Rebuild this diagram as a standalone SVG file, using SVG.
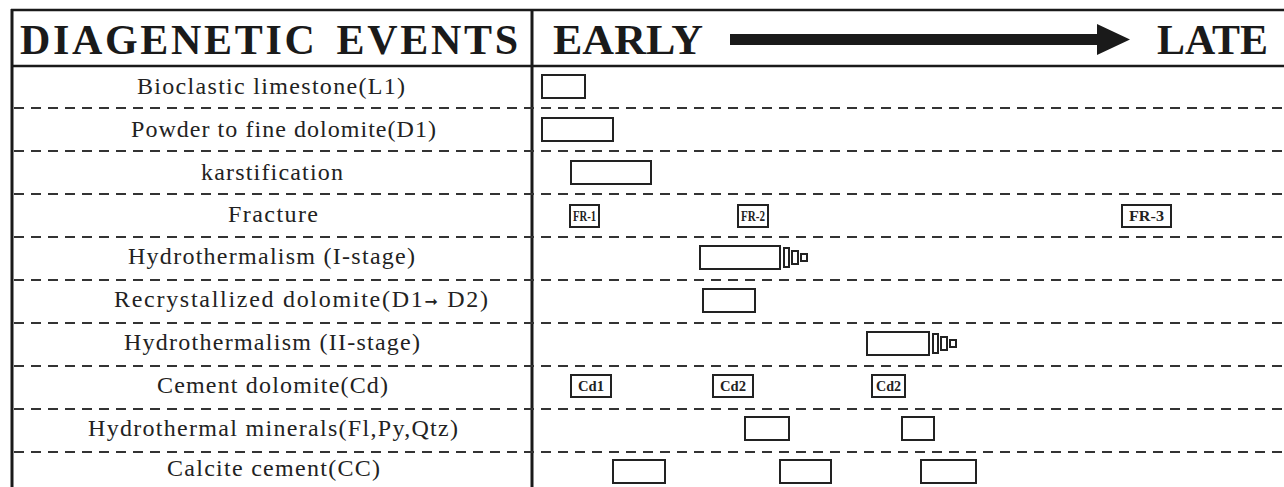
<svg xmlns="http://www.w3.org/2000/svg" width="1284" height="487" viewBox="0 0 1284 487">
<style>
.lbl{font-family:"Liberation Serif","Times New Roman",serif;font-size:24px;fill:#222}
.hd{font-family:"Liberation Serif","Times New Roman",serif;font-size:42px;font-weight:bold;fill:#1a1a1a}
.bx{fill:#fff;stroke:#222;stroke-width:2}
.tag{font-family:"Liberation Serif","Times New Roman",serif;font-size:14px;font-weight:bold;fill:#222}
.dash{stroke:#333;stroke-width:2;stroke-dasharray:10 7;fill:none}
.solid{stroke:#1a1a1a;fill:none}
</style>
<rect width="1284" height="487" fill="#fff"/>
<g id="frame">
<line class="solid" x1="11" y1="10" x2="1284" y2="10" stroke-width="2.5"/>
<line class="solid" x1="12" y1="9" x2="12" y2="487" stroke-width="3"/>
<line class="solid" x1="532" y1="9" x2="532" y2="487" stroke-width="3"/>
<line class="solid" x1="11" y1="66" x2="1284" y2="66" stroke-width="2.5"/>
</g>
<g id="header">
<text class="hd" x="20" y="54" textLength="498" lengthAdjust="spacing">DIAGENETIC<tspan dx="6"> </tspan>EVENTS</text>
<text class="hd" x="553" y="54" textLength="150" lengthAdjust="spacingAndGlyphs">EARLY</text>
<text class="hd" x="1157" y="54" textLength="111" lengthAdjust="spacingAndGlyphs">LATE</text>
<path d="M730 34 H1097 V24 L1130 39.5 L1097 55 V45 H730 Z" fill="#1a1a1a"/>
</g>
<g id="connectors">
<line class="dash" x1="14" y1="108" x2="1284" y2="108"/>
<line class="dash" x1="14" y1="151" x2="1284" y2="151"/>
<line class="dash" x1="14" y1="194" x2="1284" y2="194"/>
<line class="dash" x1="14" y1="237" x2="1284" y2="237"/>
<line class="dash" x1="14" y1="280" x2="1284" y2="280"/>
<line class="dash" x1="14" y1="323" x2="1284" y2="323"/>
<line class="dash" x1="14" y1="366" x2="1284" y2="366"/>
<line class="dash" x1="14" y1="409" x2="1284" y2="409"/>
<line class="dash" x1="14" y1="452" x2="1284" y2="452"/>
</g>
<g id="row-l1">
<text class="lbl" x="137" y="94" textLength="268" lengthAdjust="spacing">Bioclastic limestone(L1)</text>
<rect class="bx" x="542" y="75" width="43" height="23"/>
</g>
<g id="row-d1">
<text class="lbl" x="131" y="137" textLength="305" lengthAdjust="spacing">Powder to fine dolomite(D1)</text>
<rect class="bx" x="542" y="118" width="71" height="23"/>
</g>
<g id="row-karst">
<text class="lbl" x="201" y="180" textLength="142" lengthAdjust="spacing">karstification</text>
<rect class="bx" x="571" y="161" width="80" height="23"/>
</g>
<g id="row-fracture">
<text class="lbl" x="228" y="222" textLength="90" lengthAdjust="spacing">Fracture</text>
<rect class="bx" x="570" y="205" width="29" height="22"/>
<text class="tag" x="573" y="221" textLength="23" lengthAdjust="spacingAndGlyphs">FR-1</text>
<rect class="bx" x="738" y="205" width="30" height="22"/>
<text class="tag" x="741" y="221" textLength="24" lengthAdjust="spacingAndGlyphs">FR-2</text>
<rect class="bx" x="1122" y="205" width="49" height="22"/>
<text class="tag" x="1129" y="221" textLength="35" lengthAdjust="spacingAndGlyphs">FR-3</text>
</g>
<g id="row-hydro1">
<text class="lbl" x="128" y="264" textLength="287" lengthAdjust="spacing">Hydrothermalism (I-stage)</text>
<rect class="bx" x="700" y="246" width="80" height="23"/>
<rect class="bx" x="784" y="248" width="5" height="19"/>
<rect class="bx" x="792" y="251" width="6" height="13"/>
<rect class="bx" x="801" y="254" width="6" height="7"/>
</g>
<g id="row-recryst">
<text class="lbl" x="114" y="307" textLength="374" lengthAdjust="spacing">Recrystallized dolomite(D1<tspan font-family="DejaVu Sans" font-size="16">➞</tspan> D2)</text>
<rect class="bx" x="703" y="289" width="52" height="23"/>
</g>
<g id="row-hydro2">
<text class="lbl" x="124" y="350" textLength="296" lengthAdjust="spacing">Hydrothermalism (II-stage)</text>
<rect class="bx" x="867" y="332" width="62" height="23"/>
<rect class="bx" x="933" y="334" width="5" height="19"/>
<rect class="bx" x="941" y="337" width="6" height="13"/>
<rect class="bx" x="950" y="340" width="6" height="7"/>
</g>
<g id="row-cd">
<text class="lbl" x="157" y="393" textLength="231" lengthAdjust="spacing">Cement dolomite(Cd)</text>
<rect class="bx" x="571" y="375" width="40" height="22"/>
<text class="tag" x="578" y="391" textLength="26" lengthAdjust="spacingAndGlyphs">Cd1</text>
<rect class="bx" x="713" y="375" width="40" height="22"/>
<text class="tag" x="720" y="391" textLength="26" lengthAdjust="spacingAndGlyphs">Cd2</text>
<rect class="bx" x="872" y="375" width="33" height="22"/>
<text class="tag" x="876" y="391" textLength="25" lengthAdjust="spacingAndGlyphs">Cd2</text>
</g>
<g id="row-minerals">
<text class="lbl" x="88" y="436" textLength="370" lengthAdjust="spacing">Hydrothermal minerals(Fl,Py,Qtz)</text>
<rect class="bx" x="745" y="417" width="44" height="23"/>
<rect class="bx" x="902" y="417" width="32" height="23"/>
</g>
<g id="row-calcite">
<text class="lbl" x="167" y="476" textLength="213" lengthAdjust="spacing">Calcite cement(CC)</text>
<rect class="bx" x="613" y="460" width="52" height="23"/>
<rect class="bx" x="780" y="460" width="51" height="23"/>
<rect class="bx" x="921" y="460" width="55" height="23"/>
</g>
</svg>
